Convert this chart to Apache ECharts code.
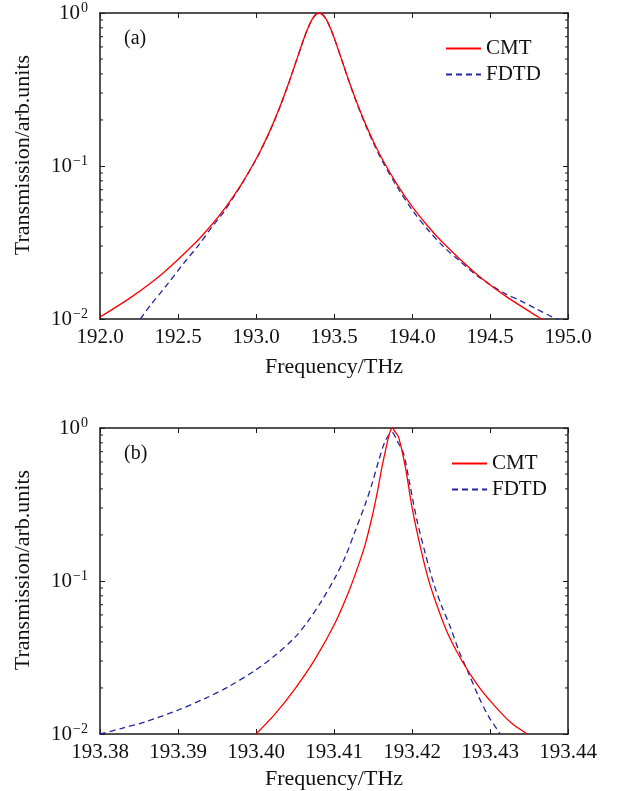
<!DOCTYPE html>
<html>
<head>
<meta charset="utf-8">
<script src="https://cdn.jsdelivr.net/npm/echarts@6/dist/echarts.min.js"></script>
<style>
  html, body { margin: 0; padding: 0; background: #fff; }
  #chart { width: 618px; height: 791px; }
</style>
</head>
<body>
<div id="chart"></div>
<script>
// ---------- Data ----------
// Panel (a): frequency (THz), transmission
const cmtA_f = [192.0, 192.205, 192.405, 192.605, 192.705, 192.805, 192.905, 193.005, 193.055, 193.105, 193.155, 193.205, 193.255, 193.305, 193.33, 193.355, 193.38, 193.405, 193.43, 193.455, 193.48, 193.505, 193.555, 193.605, 193.655, 193.705, 193.755, 193.805, 193.905, 194.005, 194.105, 194.205, 194.405, 194.605, 194.81, 194.855];
const cmtA_t = [0.0103, 0.0140, 0.0200, 0.0310, 0.0401, 0.0537, 0.0756, 0.1133, 0.143, 0.185, 0.2465, 0.338, 0.476, 0.672, 0.784, 0.891, 0.970, 1.0, 0.970, 0.891, 0.784, 0.672, 0.476, 0.338, 0.2465, 0.185, 0.143, 0.1133, 0.0756, 0.0537, 0.0401, 0.0310, 0.0200, 0.0140, 0.0103, 0.0096];

const fdtdA_f = [192.259, 192.323, 192.429, 192.536, 192.632, 192.718, 192.793, 192.857, 192.905, 193.005, 193.055, 193.105, 193.155, 193.205, 193.255, 193.305, 193.33, 193.355, 193.38, 193.405, 193.43, 193.455, 193.48, 193.505, 193.555, 193.605, 193.655, 193.705, 193.755, 193.805, 193.905, 194.005, 194.105, 194.205, 194.305, 194.405, 194.5, 194.6, 194.7, 194.8, 194.9, 194.94];
const fdtdA_t = [0.0100, 0.0123, 0.0167, 0.0231, 0.0304, 0.0400, 0.0500, 0.0628, 0.0750, 0.1125, 0.142, 0.184, 0.245, 0.337, 0.475, 0.670, 0.782, 0.889, 0.968, 0.995, 0.968, 0.889, 0.782, 0.670, 0.474, 0.336, 0.244, 0.182, 0.140, 0.110, 0.0730, 0.0510, 0.0380, 0.0295, 0.0240, 0.0196, 0.0168, 0.0146, 0.0131, 0.0116, 0.0103, 0.0099];

// Panel (b)
const cmtB_f = [193.4000, 193.40248, 193.40504, 193.40761, 193.41017, 193.41188, 193.41316, 193.41402, 193.41487, 193.41551, 193.41615, 193.41679, 193.4172, 193.4175, 193.4178, 193.41829, 193.41915, 193.42000, 193.42107, 193.42214, 193.42342, 193.42470, 193.42641, 193.42855, 193.43068, 193.43282, 193.43479];
const cmtB_t = [0.0100, 0.0136, 0.0199, 0.0311, 0.0536, 0.0850, 0.128, 0.175, 0.261, 0.371, 0.554, 0.787, 0.95, 1.0, 0.95, 0.869, 0.554, 0.304, 0.167, 0.101, 0.0644, 0.0440, 0.0300, 0.0204, 0.0151, 0.0117, 0.0100];

const fdtdB_f = [193.38000, 193.38282, 193.38581, 193.39009, 193.39350, 193.39650, 193.39991, 193.40248, 193.40504, 193.40675, 193.40846, 193.41017, 193.41145, 193.41274, 193.41402, 193.41487, 193.41573, 193.41658, 193.41744, 193.41808, 193.41893, 193.41979, 193.42064, 193.42171, 193.42278, 193.42385, 193.42491, 193.42598, 193.42726, 193.42855, 193.42983, 193.43132];
const fdtdB_t = [0.0100, 0.0109, 0.0120, 0.0144, 0.0171, 0.0204, 0.0261, 0.0327, 0.0431, 0.0553, 0.0748, 0.106, 0.144, 0.214, 0.319, 0.431, 0.612, 0.826, 0.937, 0.826, 0.676, 0.410, 0.249, 0.151, 0.0961, 0.0677, 0.0501, 0.0353, 0.0249, 0.0175, 0.0130, 0.0100];

// Axis settings
const xA = { min: 192.0, max: 195.0, interval: 0.5, digits: 1 };
const xB = { min: 193.38, max: 193.44, interval: 0.01, digits: 2 };
const yMin = 0.01, yMax = 1;
const minorTickVals = [0.02, 0.03, 0.04, 0.05, 0.06, 0.07, 0.08, 0.09, 0.2, 0.3, 0.4, 0.5, 0.6, 0.7, 0.8, 0.9];
const seriesNames = ['CMT', 'FDTD'];
const panelLabels = ['(a)', '(b)'];
const xTitle = 'Frequency/THz';
const yTitle = 'Transmission/arb.units';

// ---------- Chart ----------
const FONT = '"Liberation Serif", "DejaVu Serif", serif';
const RED = '#ff0000';
const BLUE = '#25259a';
const AXIS = '#1a1a1a';

const grids = [
  { left: 100, top: 13, width: 468, height: 306 },
  { left: 100, top: 428, width: 468, height: 307 }
];

function pair(f, t) { return f.map((v, i) => [v, t[i]]); }

function yFormatter(v) {
  const e = Math.round(Math.log10(v));
  const s = e < 0 ? '\u2212' + (-e) : String(e);
  return '{b|10}{s|' + s + '}';
}

const xAxes = [], yAxes = [];
[xA, xB].forEach((ax, gi) => {
  const base = {
    type: 'value', gridIndex: gi, min: ax.min, max: ax.max, interval: ax.interval,
    axisLine: { show: true, lineStyle: { color: AXIS, width: 1.5 } },
    axisTick: { show: true, inside: true, length: 5, lineStyle: { color: AXIS, width: 1 } },
    splitLine: { show: false }
  };
  xAxes.push(Object.assign({}, base, {
    position: 'bottom',
    axisLabel: { show: true, margin: 8, color: '#111', fontFamily: FONT, fontSize: 21,
      formatter: v => v.toFixed(ax.digits) },
    name: xTitle, nameLocation: 'middle', nameGap: gi === 0 ? 37 : 34,
    nameTextStyle: { fontFamily: FONT, fontSize: 22, color: '#111' }
  }));
  xAxes.push(Object.assign({}, base, { position: 'top', axisLabel: { show: false } }));

  const ybase = {
    type: 'log', logBase: 10, gridIndex: gi, min: yMin, max: yMax,
    axisLine: { show: true, lineStyle: { color: AXIS, width: 1.5 } },
    axisTick: { show: true, inside: true, length: 5, lineStyle: { color: AXIS, width: 1 } },
    splitLine: { show: false }
  };
  yAxes.push(Object.assign({}, ybase, {
    position: 'left',
    axisLabel: { show: true, margin: 12, formatter: yFormatter,
      rich: {
        b: { fontFamily: FONT, fontSize: 21, color: '#111' },
        s: { fontFamily: FONT, fontSize: 14, color: '#111', verticalAlign: 'bottom', padding: [0, 0, 9, 1] }
      } },
    name: yTitle, nameLocation: 'middle', nameGap: 66, nameRotate: 90,
    nameTextStyle: { fontFamily: FONT, fontSize: 22, color: '#111', padding: [0, 0, 0, 22] }
  }));
  yAxes.push(Object.assign({}, ybase, { position: 'right', axisLabel: { show: false } }));
});

function lineSeries(name, data, gi, color, dashed) {
  return {
    type: 'line', name: name, data: data, xAxisIndex: gi * 2, yAxisIndex: gi * 2,
    showSymbol: false, symbol: 'none', smooth: 0.3, clip: true,
    lineStyle: { color: color, width: 1.3, type: dashed ? [6, 4] : 'solid' },
    itemStyle: { color: color },
    z: dashed ? 3 : 4
  };
}

function minorTickSeries(gi, ax) {
  return {
    type: 'custom', xAxisIndex: gi * 2, yAxisIndex: gi * 2, silent: true, clip: false,
    data: minorTickVals.map(v => [ax.min, v]),
    encode: { x: 0, y: 1 },
    renderItem: function (params, api) {
      const v = api.value(1);
      const pl = api.coord([ax.min, v]);
      const pr = api.coord([ax.max, v]);
      const st = { stroke: AXIS, lineWidth: 1 };
      return { type: 'group', children: [
        { type: 'line', shape: { x1: pl[0], y1: pl[1], x2: pl[0] + 3, y2: pl[1] }, style: st },
        { type: 'line', shape: { x1: pr[0] - 3, y1: pr[1], x2: pr[0], y2: pr[1] }, style: st }
      ] };
    }
  };
}

const series = [
  lineSeries(seriesNames[0], pair(cmtA_f, cmtA_t), 0, RED, false),
  lineSeries(seriesNames[1], pair(fdtdA_f, fdtdA_t), 0, BLUE, true),
  lineSeries(seriesNames[0], pair(cmtB_f, cmtB_t), 1, RED, false),
  lineSeries(seriesNames[1], pair(fdtdB_f, fdtdB_t), 1, BLUE, true),
  minorTickSeries(0, xA),
  minorTickSeries(1, xB)
];

const legendCommon = {
  orient: 'vertical', data: seriesNames, itemWidth: 35, itemHeight: 12, itemGap: 5,
  selectedMode: false,
  itemStyle: { opacity: 0 },
  textStyle: { fontFamily: FONT, fontSize: 21, color: '#111' }
};

const option = {
  backgroundColor: '#fff',
  animation: false,
  title: [
    { text: panelLabels[0], left: 119, top: 24, textStyle: { fontFamily: FONT, fontSize: 20, fontWeight: 'normal', color: '#111' } },
    { text: panelLabels[1], left: 119, top: 439, textStyle: { fontFamily: FONT, fontSize: 20, fontWeight: 'normal', color: '#111' } }
  ],
  legend: [
    Object.assign({}, legendCommon, { left: 440, top: 33 }),
    Object.assign({}, legendCommon, { left: 446, top: 448 })
  ],
  grid: grids,
  xAxis: xAxes,
  yAxis: yAxes,
  series: series
};

const chart = echarts.init(document.getElementById('chart'), null, { renderer: 'canvas' });
chart.setOption(option);
</script>
</body>
</html>
